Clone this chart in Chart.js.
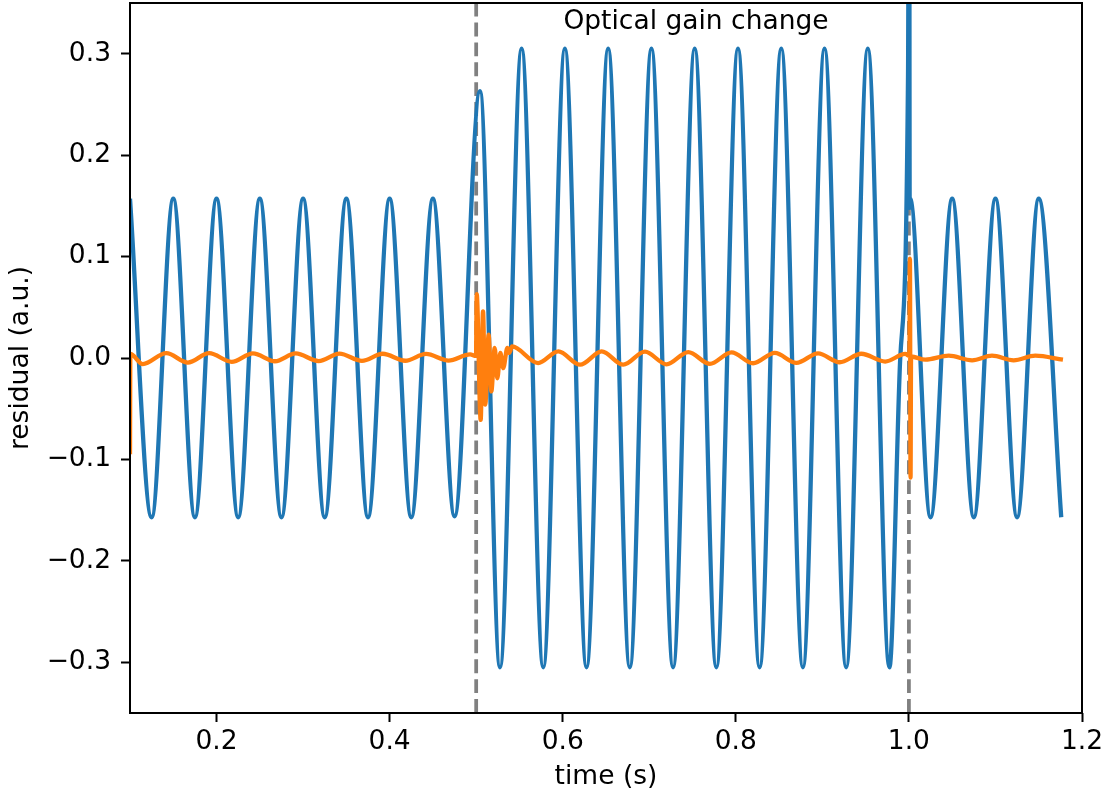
<!DOCTYPE html>
<html>
<head>
<meta charset="utf-8">
<script src="https://cdn.jsdelivr.net/npm/chart.js@4.4.1/dist/chart.umd.min.js"></script>
<style>
  body { margin: 0; background: #fff; }
  canvas { display: block; }
</style>
</head>
<body>
<canvas id="chart" width="1108" height="797"></canvas>
<script>
// blue trace: peaks and troughs
const blueTimes = [
  0.1, 0.125, 0.15, 0.175, 0.2, 0.225, 0.25, 0.275, 0.3, 0.325, 0.35, 0.375,
  0.4, 0.425, 0.45, 0.475,
  0.5044,
  0.5275, 0.5525, 0.5775, 0.6025, 0.6275, 0.6525, 0.6775, 0.7025, 0.7275,
  0.7525, 0.7775, 0.8025, 0.8275, 0.8525, 0.8775, 0.9025, 0.9275, 0.9525, 0.9775,
  0.99, 0.999, 1.0003, 1.0009, 1.0014,
  1.025, 1.05, 1.075, 1.1, 1.125, 1.15, 1.176
];
const blueValues = [
  0.157, -0.157, 0.157, -0.157, 0.157, -0.157, 0.157, -0.157, 0.157, -0.157, 0.157, -0.157,
  0.157, -0.157, 0.157, -0.156,
  0.263,
  -0.305, 0.305, -0.305, 0.305, -0.305, 0.305, -0.305, 0.305, -0.305,
  0.305, -0.305, 0.305, -0.305, 0.305, -0.305, 0.305, -0.305, 0.305, -0.305,
  0.0, 0.28, 0.62, 0.148, 0.157,
  -0.157, 0.157, -0.157, 0.157, -0.157, 0.157, -0.157
];

// orange trace: small residual with transients at the gain changes
const orangeTimes = [
  0.1, 0.1004, 0.1148, 0.142, 0.1668, 0.1915, 0.2175, 0.242, 0.2675, 0.2915,
  0.318, 0.342, 0.368, 0.392, 0.418, 0.442, 0.468, 0.493,
  0.4998, 0.5006, 0.5052, 0.5079, 0.5105, 0.5144, 0.5175, 0.5214, 0.5244,
  0.5279, 0.5313, 0.536, 0.5383, 0.5414,
  0.5715, 0.595, 0.62, 0.645, 0.67, 0.695, 0.72, 0.745, 0.77, 0.795, 0.82,
  0.845, 0.87, 0.895, 0.92, 0.945, 0.9726, 0.9957,
  1.0006, 1.0012, 1.0019, 1.0025,
  1.019, 1.046, 1.073, 1.096, 1.121, 1.146, 1.178
];
const orangeValues = [
  -0.095, 0.004, -0.006, 0.0048, -0.0045, 0.0048, -0.0038, 0.0046, -0.0032, 0.0045,
  -0.003, 0.0043, -0.0028, 0.0042, -0.0027, 0.004, -0.0025, 0.0035,
  0.002, 0.063, -0.061, 0.046, -0.046, 0.023, -0.033, 0.010, -0.020,
  0.005, -0.010, 0.010, 0.005, 0.0114,
  -0.005, 0.0065, -0.0066, 0.0065, -0.0066, 0.0062, -0.0062, 0.0058, -0.0058, 0.0055, -0.0052,
  0.005, -0.0048, 0.0046, -0.0042, 0.0042, -0.0035, 0.004,
  0.002, 0.098, -0.118, 0.0015,
  -0.0017, 0.0023, -0.0023, 0.0023, -0.0023, 0.0023, -0.0017
];

const gainChangeTimes = [0.5, 1.0];
const xTicks = [0.2, 0.4, 0.6, 0.8, 1.0, 1.2];
const yTicks = [-0.3, -0.2, -0.1, 0.0, 0.1, 0.2, 0.3];
const xRange = [0.1, 1.2];
const yRange = [-0.35, 0.35];

const FONT = "'DejaVu Sans', sans-serif";
const FSIZE = 26.5;
const LW = 4.3;

function toPoints(xs, ys) {
  return xs.map((x, i) => ({ x, y: ys[i] }));
}

function fmt(v) {
  const s = Math.abs(v).toFixed(1);
  return v < -1e-9 ? "\u2212" + s : s;
}

const vlineSets = gainChangeTimes.map(t => ({
  data: toPoints([t, t], yRange),
  borderColor: "#808080",
  borderWidth: 3.75,
  borderDash: [13.9, 6],
  pointRadius: 0,
  order: 3
}));

const framePlugin = {
  id: "frame",
  afterDraw(chart) {
    const { ctx, chartArea: a, scales } = chart;
    ctx.save();
    ctx.strokeStyle = "#000";
    ctx.lineWidth = 2;
    ctx.strokeRect(a.left, a.top, a.right - a.left, a.bottom - a.top);
    ctx.fillStyle = "#000";
    ctx.font = FSIZE + "px " + FONT;
    ctx.textAlign = "center";
    ctx.textBaseline = "alphabetic";
    ctx.fillText("Optical gain change", scales.x.getPixelForValue(0.754), scales.y.getPixelForValue(0.324));
    ctx.restore();
  }
};

new Chart(document.getElementById("chart"), {
  type: "line",
  data: {
    datasets: [
      {
        label: "orange",
        data: toPoints(orangeTimes, orangeValues),
        borderColor: "#ff7f0e",
        borderWidth: LW,
        pointRadius: 0,
        cubicInterpolationMode: "monotone",
        order: 0
      },
      {
        label: "blue",
        data: toPoints(blueTimes, blueValues),
        borderColor: "#1f77b4",
        borderWidth: LW,
        pointRadius: 0,
        cubicInterpolationMode: "monotone",
        order: 2
      },
      ...vlineSets
    ]
  },
  options: {
    responsive: false,
    animation: false,
    devicePixelRatio: 1,
    layout: { padding: { top: 3, right: 26, left: 0, bottom: 0 } },
    plugins: { legend: { display: false }, tooltip: { enabled: false } },
    scales: {
      x: {
        type: "linear",
        min: xRange[0],
        max: xRange[1],
        afterBuildTicks: s => { s.ticks = xTicks.map(v => ({ value: v })); },
        afterFit: s => { s.height = 84; s.paddingLeft = 0; s.paddingRight = 0; },
        ticks: {
          callback: v => fmt(v),
          color: "#000",
          font: { family: FONT, size: FSIZE },
          padding: 4,
          maxRotation: 0,
          autoSkip: false
        },
        grid: { drawOnChartArea: false, tickLength: 9, tickWidth: 2, tickColor: "#000" },
        border: { display: false },
        title: {
          display: true,
          text: "time (s)",
          color: "#000",
          font: { family: FONT, size: FSIZE },
          padding: { top: 0, bottom: 4 }
        }
      },
      y: {
        type: "linear",
        min: yRange[0],
        max: yRange[1],
        afterBuildTicks: s => { s.ticks = yTicks.map(v => ({ value: v })); },
        afterFit: s => { s.width = 130; s.paddingTop = 0; s.paddingBottom = 0; },
        ticks: {
          callback: v => fmt(v),
          color: "#000",
          font: { family: FONT, size: FSIZE },
          padding: 10
        },
        grid: { drawOnChartArea: false, tickLength: 9, tickWidth: 2, tickColor: "#000" },
        border: { display: false },
        title: {
          display: true,
          text: "residual (a.u.)",
          color: "#000",
          font: { family: FONT, size: FSIZE },
          padding: { top: 5, bottom: 0 }
        }
      }
    }
  },
  plugins: [framePlugin]
});
</script>
</body>
</html>
